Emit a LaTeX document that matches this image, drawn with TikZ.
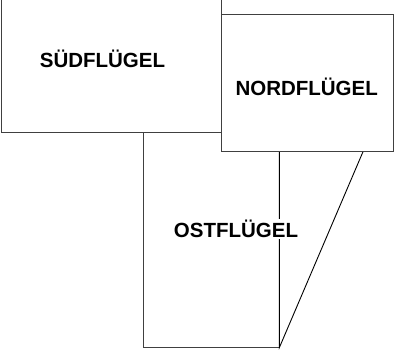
\documentclass[tikz,border=0pt]{standalone}
\usepackage{fontspec}
\setmainfont{Liberation Sans}
\begin{document}
\begin{tikzpicture}[x=1pt,y=-1pt,
  wall/.style={draw=black!75,line width=1pt},
  label/.style={font=\fontsize{20.5}{24}\selectfont\bfseries,inner sep=1pt,text=black}]
\useasboundingbox (0,0) rectangle (395,351);
% Suedfluegel
\draw[wall,fill=white] (1.7,-2) rectangle (221.7,132.3);
% Ostfluegel
\draw[wall] (221.7,132.3) -- (143.3,132.3) -- (143.3,347.7) -- (279.3,347.7);
\draw[wall,draw=black,line width=0.9pt] (279.3,151) -- (279.3,347.7) -- (363.3,151);
% Nordfluegel
\draw[wall,fill=white] (221.7,14.3) rectangle (393.3,151);
\node[label] (sued) at (102.5,58.5) {SÜDFLÜGEL};
\node[label] (nord) at (306.7,86.7) {NORDFLÜGEL};
\node[label,fill=white] (ost) at (236,229.3) {OSTFLÜGEL};
\end{tikzpicture}
\end{document}
